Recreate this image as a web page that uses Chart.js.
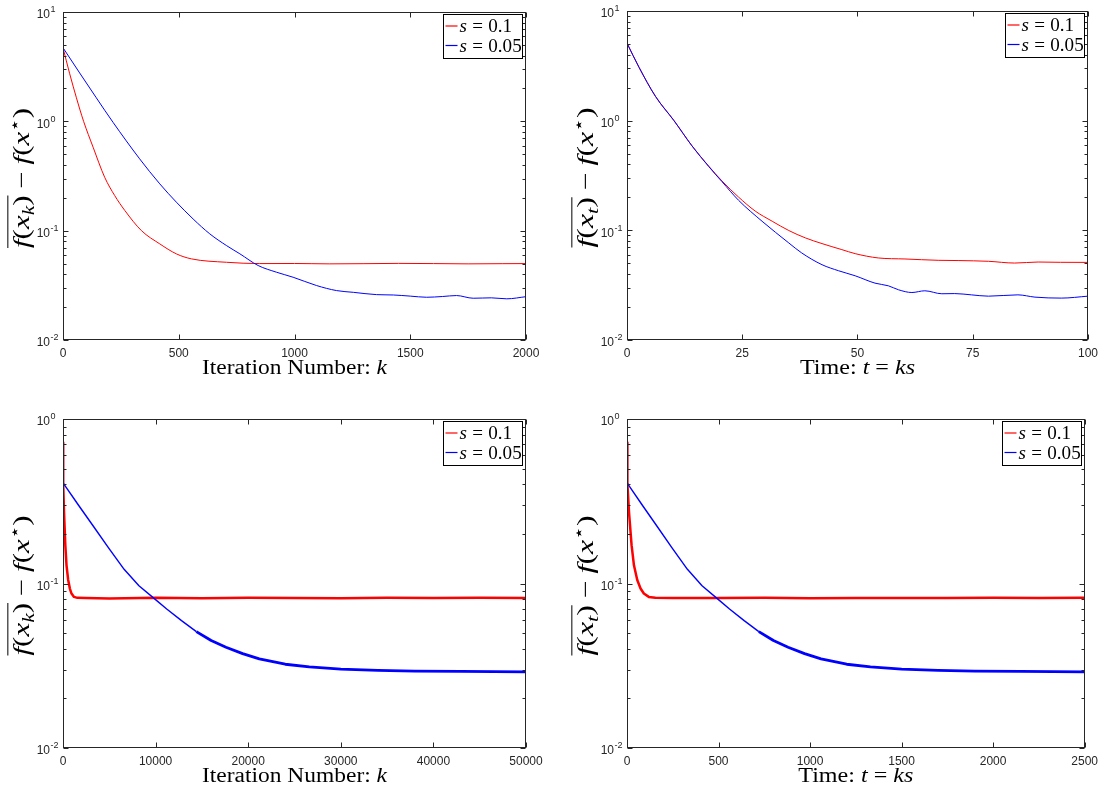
<!DOCTYPE html>
<html>
<head>
<meta charset="utf-8">
<script src="https://cdn.jsdelivr.net/npm/chart.js@4.4.0/dist/chart.umd.min.js"></script>
<style>
    body { margin: 0; background: #fff; width: 1104px; height: 789px; overflow: hidden; }
    .panel { position: absolute; width: 552px; height: 394px; }
</style>
</head>
<body>
<div class="panel" style="left:0;top:0"><canvas id="supIzq"></canvas></div>
<div class="panel" style="left:552px;top:0"><canvas id="supDer"></canvas></div>
<div class="panel" style="left:0;top:394px"><canvas id="infIzq"></canvas></div>
<div class="panel" style="left:552px;top:394px"><canvas id="infDer"></canvas></div>
<script>
// Etiquetas de las series (paso s)
const etiquetasSerie = ['0.1', '0.05'];

// Gráfico superior izquierdo: número de iteración k
const supIzqRojoK = [0, 29, 58, 89, 130, 180, 223, 267, 339, 418, 490, 555, 706, 850, 1000, 1150, 1300, 1450, 1600, 1750, 1900, 2000];
const supIzqRojoV = [4.71, 2.72, 1.64, 1.0, 0.58, 0.308, 0.21, 0.153, 0.100, 0.0757, 0.0613, 0.0552, 0.0514, 0.0500, 0.0501, 0.0497, 0.0499, 0.0502, 0.0500, 0.0497, 0.0499, 0.0500];
const supIzqAzulK = [0, 72, 144, 216, 331, 418, 490, 562, 634, 706, 764, 843, 922, 994, 1095, 1182, 1254, 1355, 1427, 1500, 1571, 1640, 1700, 1772, 1850, 1917, 2000];
const supIzqAzulV = [4.71, 2.77, 1.64, 0.98, 0.454, 0.268, 0.182, 0.128, 0.0935, 0.0731, 0.0614, 0.048, 0.0417, 0.0375, 0.0315, 0.0283, 0.0273, 0.0260, 0.0258, 0.0252, 0.0246, 0.0250, 0.0255, 0.0241, 0.0243, 0.0238, 0.0249];

// Gráfico superior derecho: tiempo t = ks
const supDerRojoT = [0, 2.6, 6.2, 10.2, 14.1, 17.7, 20.6, 24.2, 27.8, 31.5, 35.1, 38.7, 42.3, 46.6, 49.5, 54.5, 60.3, 67.5, 72, 78.4, 84.1, 89.2, 94, 100];
const supDerRojoV = [5.09, 3.07, 1.66, 1.0, 0.589, 0.386, 0.282, 0.201, 0.150, 0.121, 0.0996, 0.0853, 0.0757, 0.0667, 0.0613, 0.0560, 0.0548, 0.0533, 0.0530, 0.0522, 0.0503, 0.0514, 0.0511, 0.0510];
const supDerAzulT = [0, 2.6, 6.2, 10.2, 14.1, 17.7, 20.6, 24.2, 29.3, 35.1, 37.9, 42.3, 45.9, 49.5, 53.8, 56.7, 58.9, 61.8, 64.6, 68.3, 71.1, 74.7, 78.4, 84.8, 88.5, 94.2, 100];
const supDerAzulV = [5.09, 3.07, 1.66, 1.0, 0.589, 0.383, 0.278, 0.188, 0.121, 0.0767, 0.0622, 0.0486, 0.0428, 0.0385, 0.0330, 0.0312, 0.0287, 0.0271, 0.0281, 0.0264, 0.0265, 0.0258, 0.0251, 0.0258, 0.0246, 0.0241, 0.0251];

// Gráfico inferior izquierdo: número de iteración k
const infIzqRojoK = [0, 20, 108, 250, 380, 560, 740, 920, 1190, 1550, 2500, 5000, 10000, 15000, 20000, 25000, 30000, 35000, 40000, 45000, 50000];
const infIzqRojoV = [0.72, 0.406, 0.273, 0.171, 0.129, 0.105, 0.0932, 0.0869, 0.0829, 0.0818, 0.0815, 0.0810, 0.0818, 0.0814, 0.0820, 0.0816, 0.0813, 0.0818, 0.0815, 0.0819, 0.0816];
const infIzqAzulK = [0, 40, 1660, 3300, 4900, 6600, 8200, 9800, 11200, 12800, 14400, 16000, 17600, 19400, 21200, 24000, 26600, 30000, 34000, 38000, 43000, 50000];
const infIzqAzulV = [0.72, 0.406, 0.300, 0.222, 0.165, 0.122, 0.097, 0.0815, 0.070, 0.0595, 0.0510, 0.0450, 0.0410, 0.0375, 0.0348, 0.0323, 0.0311, 0.0302, 0.0296, 0.0293, 0.0292, 0.0290];

// Gráfico inferior derecho: tiempo t = ks
const infDerRojoT = [0, 2, 10.8, 25, 38, 56, 74, 92, 119, 155, 250, 500, 750, 1000, 1250, 1500, 1750, 2000, 2250, 2500];
const infDerRojoV = [0.72, 0.406, 0.273, 0.171, 0.129, 0.105, 0.0932, 0.0869, 0.0829, 0.0818, 0.0816, 0.0815, 0.0818, 0.0814, 0.0817, 0.0815, 0.0816, 0.0818, 0.0815, 0.0820];
const infDerAzulT = [0, 2, 83, 165, 245, 330, 410, 490, 560, 640, 720, 800, 880, 970, 1060, 1200, 1330, 1500, 1700, 1900, 2150, 2500];
const infDerAzulV = [0.72, 0.406, 0.300, 0.222, 0.165, 0.122, 0.097, 0.0815, 0.070, 0.0595, 0.0510, 0.0450, 0.0410, 0.0375, 0.0348, 0.0323, 0.0311, 0.0302, 0.0296, 0.0293, 0.0292, 0.0290];

// Marcas de los ejes
const ticksSupIzq = [0, 500, 1000, 1500, 2000];
const ticksSupDer = [0, 25, 50, 75, 100];
const ticksInfIzq = [0, 10000, 20000, 30000, 40000, 50000];
const ticksInfDer = [0, 500, 1000, 1500, 2000, 2500];
const decadasSup = [0.01, 0.1, 1, 10];
const decadasInf = [0.01, 0.1, 1];

const SERIF = '"Liberation Serif", "DejaVu Serif", serif';
const SANS = '"Liberation Sans", Arial, sans-serif';

// Dibuja (o mide) una fórmula sencilla pieza a pieza
function formula(ctx, partes, tam, dibujar) {
    let x = 0;
    const pos = [];
    partes.forEach(p => {
        const t = (p.sub || p.sup) ? tam * 0.7 : tam;
        ctx.font = (p.it ? 'italic ' : '') + t + 'px ' + (p.sup ? '"DejaVu Serif", serif' : SERIF);
        x += p.gap || 0;
        const w = ctx.measureText(p.t).width;
        if (dibujar) {
            const dy = p.sub ? tam * 0.22 : (p.sup ? -tam * 0.38 : 0);
            ctx.fillText(p.t, x, dy);
        }
        pos.push([x, x + w]);
        x += w + (p.gap || 0);
    });
    return { ancho: x, pos: pos };
}

// Dibuja la fórmula centrada en (cx, base) estirada al ancho deseado
function formulaCentrada(ctx, partes, tam, cx, base, anchoObjetivo, linea) {
    ctx.textAlign = 'left';
    ctx.textBaseline = 'alphabetic';
    const m = formula(ctx, partes, tam, false);
    const esc = anchoObjetivo ? anchoObjetivo / m.ancho : 1;
    ctx.save();
    ctx.translate(cx - m.ancho * esc / 2, base);
    ctx.scale(esc, 1);
    formula(ctx, partes, tam, true);
    if (linea) {
        ctx.beginPath();
        ctx.lineWidth = 1;
        ctx.moveTo(m.pos[linea[0]][0], -tam * 0.92);
        ctx.lineTo(m.pos[linea[1]][1], -tam * 0.92);
        ctx.strokeStyle = '#000';
        ctx.stroke();
    }
    ctx.restore();
}

function crearMarco(cfg) {
    return {
        id: 'marco',
        afterDatasetsDraw(chart) {
            const ctx = chart.ctx;
            const a = chart.chartArea;
            const ex = chart.scales.x, ey = chart.scales.y;
            const L = Math.round(a.left) + 0.5, R = Math.round(a.right) - 0.5;
            const T = Math.round(a.top) + 0.5, B = Math.round(a.bottom) - 0.5;
            ctx.save();
            ctx.strokeStyle = '#262626';
            ctx.lineWidth = 1;
            ctx.strokeRect(L, T, R - L, B - T);
            ctx.beginPath();
            // marcas del eje x, abajo y arriba
            cfg.ticksX.forEach(v => {
                const px = Math.round(ex.getPixelForValue(v)) + 0.5;
                ctx.moveTo(px, B); ctx.lineTo(px, B - 5);
                ctx.moveTo(px, T); ctx.lineTo(px, T + 5);
            });
            // marcas mayores y menores del eje logarítmico
            cfg.decadas.forEach(d => {
                for (let m = 1; m <= 9; m++) {
                    const v = d * m;
                    if (v > ey.max * 1.0001) break;
                    const py = Math.round(ey.getPixelForValue(v)) + 0.5;
                    const largo = m === 1 ? 5 : 3;
                    ctx.moveTo(L, py); ctx.lineTo(L + largo, py);
                    ctx.moveTo(R, py); ctx.lineTo(R - largo, py);
                }
            });
            ctx.stroke();

            // etiquetas del eje y: 10^n
            ctx.fillStyle = '#262626';
            cfg.decadas.forEach(d => {
                const py = ey.getPixelForValue(d);
                const exp = Math.round(Math.log10(d));
                ctx.textBaseline = 'middle';
                ctx.font = '12px ' + SANS;
                ctx.textAlign = 'right';
                ctx.fillText('10', a.left - 13, py + 3);
                ctx.font = '9px ' + SANS;
                ctx.textAlign = 'left';
                ctx.fillText(String(exp), a.left - 12.5, py - 2);
            });

            // títulos de los ejes
            ctx.fillStyle = '#000';
            formulaCentrada(ctx, cfg.tituloX, 20, (a.left + a.right) / 2, a.bottom + 34, cfg.anchoTituloX);
            ctx.save();
            ctx.translate(a.left - 42, (a.top + a.bottom) / 2 + 2);
            ctx.rotate(-Math.PI / 2);
            formulaCentrada(ctx, cfg.tituloY, 23, 0, 8, 140, [0, 4]);
            ctx.restore();

            // leyenda dentro del área, arriba a la derecha
            const ancho = 79, alto = 44;
            const lx = Math.round(a.right - 4 - ancho) + 0.5, ly = Math.round(a.top + 1.5) + 0.5;
            ctx.fillStyle = '#fff';
            ctx.fillRect(lx, ly, ancho, alto);
            ctx.strokeStyle = '#000';
            ctx.lineWidth = 1;
            ctx.strokeRect(lx, ly, ancho, alto);
            chart.data.datasets.forEach((ds, i) => {
                const fy = ly + 11.5 + i * 19.5;
                ctx.beginPath();
                ctx.strokeStyle = ds.borderColor;
                ctx.lineWidth = 1.2;
                ctx.moveTo(lx + 2, fy); ctx.lineTo(lx + 14, fy);
                ctx.stroke();
                ctx.fillStyle = '#000';
                const partes = [{ t: 's', it: 1 }, { t: '=', gap: 5 }, { t: ds.label }];
                ctx.save();
                ctx.textAlign = 'left';
                ctx.textBaseline = 'alphabetic';
                ctx.translate(lx + 16, fy + 6);
                ctx.scale(1.06, 1);
                formula(ctx, partes, 18, true);
                ctx.restore();
            });
            ctx.restore();
        }
    };
}

function crearGrafico(id, cfg) {
    const unir = (xs, ys) => xs.map((x, i) => ({ x: x, y: ys[i] }));
    return new Chart(document.getElementById(id), {
        type: 'line',
        data: {
            datasets: [{
                label: etiquetasSerie[0],
                data: unir(cfg.rojoX, cfg.rojoY),
                borderColor: '#ff0000',
                borderWidth: cfg.grosorRojo,
                order: 1
            }, {
                label: etiquetasSerie[1],
                data: unir(cfg.azulX, cfg.azulY),
                borderColor: '#0000ff',
                borderWidth: cfg.grosorAzul,
                order: 0,
                segment: {
                    borderWidth: c => (cfg.engrosar && c.p0.parsed.x > cfg.engrosar) ? 2.8 : cfg.grosorAzul
                }
            }]
        },
        options: {
            responsive: true,
            maintainAspectRatio: false,
            animation: false,
            devicePixelRatio: 1,
            elements: {
                point: { radius: 0 },
                line: cfg.suave ? { cubicInterpolationMode: 'monotone' } : { tension: 0, borderJoinStyle: 'round' }
            },
            layout: { padding: { top: cfg.arriba, right: cfg.derecha, left: 0, bottom: 0 } },
            plugins: { legend: { display: false }, tooltip: { enabled: false } },
            scales: {
                x: {
                    type: 'linear',
                    min: 0,
                    max: cfg.ticksX[cfg.ticksX.length - 1],
                    afterBuildTicks: s => { s.ticks = cfg.ticksX.map(v => ({ value: v })); },
                    afterFit: s => { s.height = cfg.abajo; },
                    ticks: {
                        maxRotation: 0,
                        autoSkip: false,
                        padding: 6,
                        color: '#262626',
                        font: { family: SANS, size: 12 },
                        callback: v => String(v)
                    },
                    grid: { display: false, drawTicks: false },
                    border: { display: false }
                },
                y: {
                    type: 'logarithmic',
                    min: cfg.decadas[0],
                    max: cfg.decadas[cfg.decadas.length - 1],
                    afterFit: s => { s.width = cfg.izquierda; },
                    ticks: { display: false },
                    grid: { display: false, drawTicks: false },
                    border: { display: false }
                }
            }
        },
        plugins: [crearMarco(cfg)]
    });
}

const tituloK = [{ t: 'Iteration Number: ' }, { t: 'k', it: 1 }];
const tituloT = [{ t: 'Time: ' }, { t: 't', it: 1 }, { t: '=', gap: 5 }, { t: 'ks', it: 1 }];
const tituloYk = [{ t: 'f', it: 1 }, { t: '(' }, { t: 'x', it: 1 }, { t: 'k', it: 1, sub: 1 }, { t: ')' },
    { t: '−', gap: 5 }, { t: 'f', it: 1 }, { t: '(' }, { t: 'x', it: 1 }, { t: '⋆', sup: 1 }, { t: ')' }];
const tituloYt = [{ t: 'f', it: 1 }, { t: '(' }, { t: 'x', it: 1 }, { t: 't', it: 1, sub: 1 }, { t: ')' },
    { t: '−', gap: 5 }, { t: 'f', it: 1 }, { t: '(' }, { t: 'x', it: 1 }, { t: '⋆', sup: 1 }, { t: ')' }];

crearGrafico('supIzq', {
    rojoX: supIzqRojoK, rojoY: supIzqRojoV, azulX: supIzqAzulK, azulY: supIzqAzulV,
    ticksX: ticksSupIzq, decadas: decadasSup, grosorRojo: 1, grosorAzul: 1, suave: true,
    izquierda: 63, arriba: 12, derecha: 26, abajo: 54,
    tituloX: tituloK, anchoTituloX: 185, tituloY: tituloYk
});
crearGrafico('supDer', {
    rojoX: supDerRojoT, rojoY: supDerRojoV, azulX: supDerAzulT, azulY: supDerAzulV,
    ticksX: ticksSupDer, decadas: decadasSup, grosorRojo: 1, grosorAzul: 1, suave: true,
    izquierda: 75, arriba: 11, derecha: 15, abajo: 54,
    tituloX: tituloT, anchoTituloX: 115, tituloY: tituloYt
});
crearGrafico('infIzq', {
    rojoX: infIzqRojoK, rojoY: infIzqRojoV, azulX: infIzqAzulK, azulY: infIzqAzulV,
    ticksX: ticksInfIzq, decadas: decadasInf, grosorRojo: 2.5, grosorAzul: 1.4, engrosar: 14000, suave: false,
    izquierda: 63, arriba: 25, derecha: 26, abajo: 40,
    tituloX: tituloK, anchoTituloX: 185, tituloY: tituloYk
});
crearGrafico('infDer', {
    rojoX: infDerRojoT, rojoY: infDerRojoV, azulX: infDerAzulT, azulY: infDerAzulV,
    ticksX: ticksInfDer, decadas: decadasInf, grosorRojo: 2.5, grosorAzul: 1.4, engrosar: 700, suave: false,
    izquierda: 75, arriba: 25, derecha: 15, abajo: 40,
    tituloX: tituloT, anchoTituloX: 115, tituloY: tituloYt
});
</script>
</body>
</html>
